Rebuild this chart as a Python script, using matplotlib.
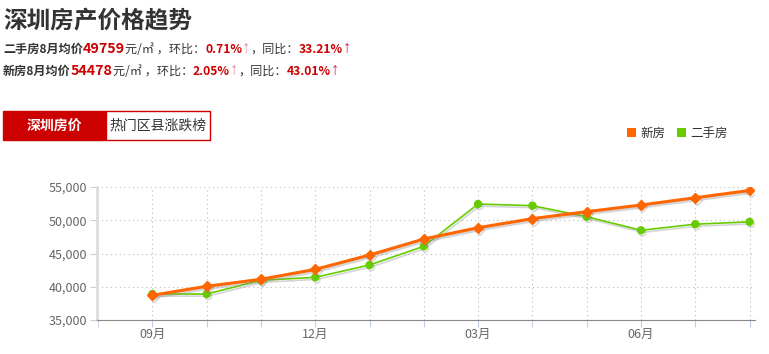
import matplotlib
matplotlib.use("Agg")
import matplotlib.pyplot as plt
import matplotlib.patheffects as pe
from matplotlib.patches import Rectangle
import numpy as np

plt.rcParams['font.family'] = ['Noto Sans CJK SC', 'DejaVu Sans']

# data
months = ['09月', '10月', '11月', '12月', '01月', '02月', '03月', '04月', '05月', '06月', '07月', '08月']
new_house = [38720, 40070, 41120, 42620, 44770, 47180, 48880, 50240, 51290, 52290, 53384, 54478]
second_hand = [38910, 38900, 40970, 41420, 43270, 46080, 52440, 52190, 50530, 48490, 49408, 49759]
tick_labels = ['09月', '12月', '03月', '06月']
yticks = [35000, 40000, 45000, 50000, 55000]

orange = '#ff6600'
green = '#66cc00'
red = '#cc0000'
dark = '#333333'

fig = plt.figure(figsize=(7.69, 3.54), dpi=100)
W, H = 769, 354


def fx(px):
    return px / W


def fy(py):
    return 1 - py / H


renderer = fig.canvas.get_renderer()


def run_text(x, y, pieces):
    # draw text pieces one after another on a line
    for s, size, color, weight, fam in pieces:
        t = fig.text(fx(x), fy(y), s, fontsize=size, color=color, weight=weight, va='baseline', ha='left',
                     family=fam)
        bb = t.get_window_extent(renderer=renderer)
        x += bb.width


cjk = ['Noto Sans CJK SC', 'DejaVu Sans']
arr = ['Liberation Sans', 'DejaVu Sans']

fig.text(fx(3), fy(28), '深圳房产价格趋势', fontsize=17, weight='bold', color=dark, va='baseline')
run_text(3, 53, [('二手房8月均价', 8.7, dark, 'bold', cjk), ('49759', 10.3, red, 'bold', cjk),
                 ('元/㎡ ，环比：', 8.7, dark, 'normal', cjk), ('0.71%', 8.7, red, 'bold', cjk),
                 ('↑', 12, '#e08a9a', 'normal', arr),
                 ('，同比：', 8.7, dark, 'normal', cjk), ('33.21%', 8.7, red, 'bold', cjk),
                 ('↑', 12, '#d6204a', 'normal', arr)])
run_text(3, 75, [('新房8月均价', 8.7, dark, 'bold', cjk), ('54478', 10.3, red, 'bold', cjk),
                 ('元/㎡ ，环比：', 8.7, dark, 'normal', cjk), ('2.05%', 8.7, red, 'bold', cjk),
                 ('↑', 12, '#e08a9a', 'normal', arr),
                 ('，同比：', 8.7, dark, 'normal', cjk), ('43.01%', 8.7, red, 'bold', cjk),
                 ('↑', 12, '#d6204a', 'normal', arr)])

# tabs
fig.patches.append(Rectangle((fx(3), fy(140)), fx(103), 29 / H, transform=fig.transFigure,
                             facecolor=red, edgecolor=red, lw=1))
fig.patches.append(Rectangle((fx(106), fy(140)), fx(104), 29 / H, transform=fig.transFigure,
                             facecolor='white', edgecolor=red, lw=1))
fig.text(fx(54), fy(126), '深圳房价', fontsize=10, color='white', weight='bold', ha='center', va='center')
fig.text(fx(158), fy(126), '热门区县涨跌榜', fontsize=10, color=dark, ha='center', va='center')

# legend
fig.patches.append(Rectangle((fx(627), fy(137)), fx(9), 9 / H, transform=fig.transFigure, facecolor=orange, lw=0))
fig.text(fx(640), fy(133), '新房', fontsize=9, color=dark, va='center')
fig.patches.append(Rectangle((fx(677), fy(137)), fx(9), 9 / H, transform=fig.transFigure, facecolor=green, lw=0))
fig.text(fx(690), fy(133), '二手房', fontsize=9, color=dark, va='center')

ax = fig.add_axes([fx(97), fy(320), fx(755 - 97), (320 - 187) / H])
x = np.arange(len(months))
shadow = [pe.SimpleLineShadow(offset=(1, -1.5), shadow_color='#888888', alpha=0.35), pe.Normal()]
ax.plot(x, second_hand, color=green, lw=1.2, marker='o', ms=5, zorder=3, path_effects=shadow)
ax.plot(x, new_house, color=orange, lw=2.2, marker='D', ms=5, zorder=4, path_effects=shadow)

ax.set_xlim(-1.02, 11.1)
ax.set_ylim(35000, 55000)
ax.set_yticks(yticks)
ax.set_yticklabels([f'{v:,}' for v in yticks], color='#666666', fontsize=9)
ax.set_xticks(x)
ax.set_xticklabels([m if m in tick_labels else '' for m in months], color='#666666', fontsize=9)
ax.set_xticks(np.arange(-1, 12), minor=True)
ax.tick_params(axis='x', which='both', length=5, color='#c0d0e0', pad=1)
ax.tick_params(axis='y', length=5, color='#c0d0e0', pad=2)
ax.grid(True, color='#bbbbbb', ls=(0, (1, 3)), lw=0.8)
ax.grid(True, which='minor', axis='x', color='#bbbbbb', ls=(0, (1, 3)), lw=0.8)
for s in ['top', 'right']:
    ax.spines[s].set_visible(False)
ax.spines['left'].set_color('#dddddd')
ax.spines['left'].set_linewidth(2)
ax.spines['bottom'].set_color('#888888')
ax.set_axisbelow(True)

fig.savefig('out.png', dpi=100)
